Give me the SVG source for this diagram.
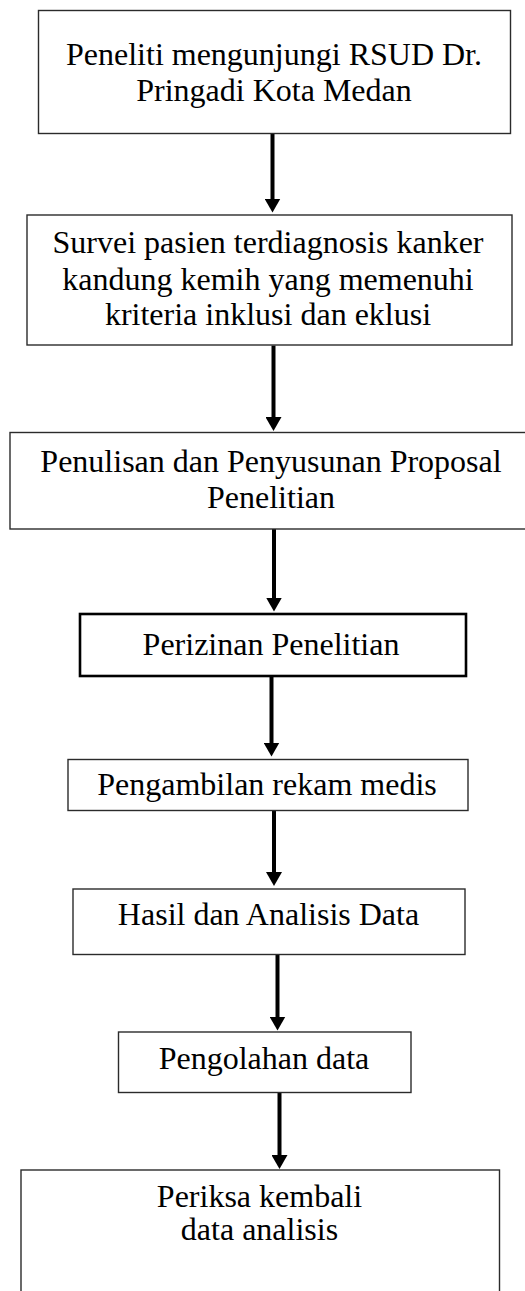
<svg xmlns="http://www.w3.org/2000/svg" width="525" height="1291" viewBox="0 0 525 1291">
<style>
.box{fill:#fff;stroke:#2b2b2b;stroke-width:1.4}
.bold{fill:#fff;stroke:#000;stroke-width:2.6}
.t{font-family:"Liberation Serif","Times New Roman",serif;font-size:32px;fill:#000;text-anchor:middle}
.c{stroke:#000;stroke-width:4;fill:none;marker-end:url(#ah)}
</style>
<defs>
<marker id="ah" viewBox="0 0 14 16" markerWidth="14" markerHeight="16" refX="0.5" refY="8" orient="auto" markerUnits="userSpaceOnUse">
<path d="M0,0 L14,8 L0,16 z" fill="#000"/>
</marker>
</defs>
<rect width="525" height="1291" fill="#fff"/>
<g id="connectors">
<line class="c" x1="272.5" y1="133.5" x2="272.5" y2="199"/>
<line class="c" x1="273.5" y1="345.5" x2="273.5" y2="417.5"/>
<line class="c" x1="274" y1="529" x2="274" y2="598"/>
<line class="c" x1="271.5" y1="676" x2="271.5" y2="743"/>
<line class="c" x1="274" y1="811" x2="274" y2="872.5"/>
<line class="c" x1="277.5" y1="955" x2="277.5" y2="1017"/>
<line class="c" x1="279.5" y1="1093" x2="279.5" y2="1155.5"/>
</g>
<g id="n1">
<rect class="box" x="38.5" y="10.5" width="472" height="123"/>
<text class="t" x="274" y="65">Peneliti mengunjungi RSUD Dr.</text>
<text class="t" x="274" y="101">Pringadi Kota Medan</text>
</g>
<g id="n2">
<rect class="box" x="27" y="215" width="485" height="130"/>
<text class="t" x="268" y="253">Survei pasien terdiagnosis kanker</text>
<text class="t" x="268" y="290">kandung kemih yang memenuhi</text>
<text class="t" x="268" y="325">kriteria inklusi dan eklusi</text>
</g>
<g id="n3">
<rect class="box" x="10" y="432.5" width="520" height="96.5"/>
<text class="t" x="271" y="472">Penulisan dan Penyusunan Proposal</text>
<text class="t" x="271" y="508">Penelitian</text>
</g>
<g id="n4">
<rect class="bold" x="80" y="614" width="386" height="62"/>
<text class="t" x="271" y="655">Perizinan Penelitian</text>
</g>
<g id="n5">
<rect class="box" x="68" y="759.5" width="400" height="51"/>
<text class="t" x="267" y="795">Pengambilan rekam medis</text>
</g>
<g id="n6">
<rect class="box" x="73" y="889" width="392" height="65.5"/>
<text class="t" x="268.5" y="925">Hasil dan Analisis Data</text>
</g>
<g id="n7">
<rect class="box" x="118.5" y="1032" width="292.5" height="60.5"/>
<text class="t" x="264" y="1069">Pengolahan data</text>
</g>
<g id="n8">
<rect class="box" x="21" y="1170" width="478.5" height="140"/>
<text class="t" x="259.5" y="1207">Periksa kembali</text>
<text class="t" x="259.5" y="1240">data analisis</text>
</g>
</svg>
